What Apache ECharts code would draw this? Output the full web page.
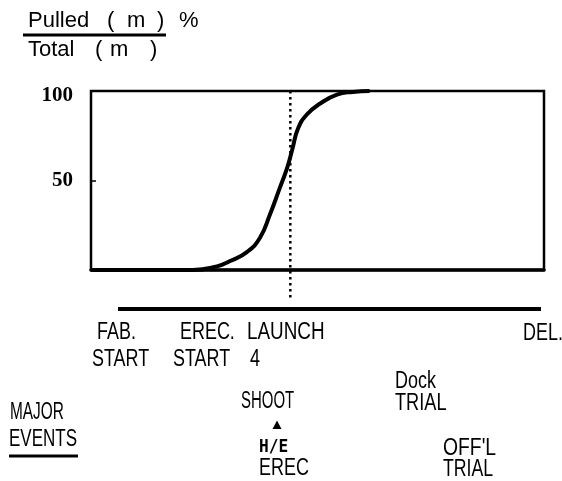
<!DOCTYPE html>
<html>
<head>
<meta charset="utf-8">
<script src="https://cdn.jsdelivr.net/npm/echarts@6/dist/echarts.min.js"></script>
<style>
  html, body { margin: 0; padding: 0; background: #fff; }
  #chart { width: 562px; height: 481px; }
</style>
</head>
<body>
<div id="chart"></div>
<script>
// Cumulative pipe pulled (% of total) against position along the build schedule
// (0 = left edge of the plot, 100 = right edge).
const schedulePos = [0, 22.5, 27.8, 30.7, 34.4, 37.3, 39.5, 41.7, 43.3, 44.4, 45.7, 47.7, 50.6, 54.3, 57.8, 61.5];
const pulledPct   = [0, 0,    2,    5,    10,   18,   31,   46,   57,   67,   79,   87,   93,   98,   99.5, 100];

// Value-axis ticks that carry a label
const yTickLabels = [50, 100];

// Launch milestone on the schedule axis (dotted marker)
const launchPos = 44;

// Milestone captions under the schedule bar (upper and lower line)
const milestoneTop = ['FAB.', 'EREC.', 'LAUNCH', 'DEL.'];
const milestoneBottom = ['START', 'START', '4'];
// Major events block
const eventsHeading = ['MAJOR', 'EVENTS'];
const eventShoot = ['SHOOT', 'H/E', 'EREC'];
const eventDock = ['Dock', 'TRIAL'];
const eventOfficial = ["OFF'L", 'TRIAL'];
// Axis title, drawn as a fraction
const titleNumerator = ['Pulled', '(', 'm', ')', '%'];
const titleDenominator = ['Total', '(', 'm', ')'];

const SANS = "'Liberation Sans', Arial, sans-serif";
const chart = echarts.init(document.getElementById('chart'), null, { renderer: 'canvas' });

// Text element; sx squeezes the glyphs horizontally for the narrow lettering
function txt(x, y, s, size, sx, weight, family) {
  return {
    type: 'text', x: x, y: y, scaleX: sx || 1,
    style: {
      text: s, fill: '#000',
      font: (weight || 'normal') + ' ' + size + 'px ' + (family || SANS),
      textAlign: 'left', textVerticalAlign: 'middle'
    }
  };
}

const option = {
  backgroundColor: '#fff',
  animation: false,
  grid: {
    left: 91, right: 18, top: 91, bottom: 211,
    show: true, borderColor: '#000', borderWidth: 2.5, backgroundColor: 'transparent'
  },
  xAxis: {
    type: 'value', min: 0, max: 100,
    axisLine: { show: true, lineStyle: { color: '#000', width: 3.5 } },
    axisTick: { show: false },
    axisLabel: { show: false },
    splitLine: { show: false }
  },
  yAxis: {
    type: 'value', min: 0, max: 100, interval: 50,
    axisLine: { show: true, lineStyle: { color: '#000', width: 2 } },
    axisTick: { show: true, inside: true, length: 5, lineStyle: { color: '#000', width: 1.5 } },
    splitLine: { show: false },
    axisLabel: {
      margin: 18,
      formatter: function (v) {
        if (yTickLabels.indexOf(v) < 0) return '';
        return v === 100 ? '{top|' + v + '}' : '{mid|' + v + '}';
      },
      rich: {
        top: { fontFamily: "'Liberation Serif', serif", fontWeight: 'bold', fontSize: 21, color: '#000', padding: [10, 0, 0, 0] },
        mid: { fontFamily: "'Liberation Serif', serif", fontWeight: 'bold', fontSize: 21, color: '#000' }
      }
    }
  },
  series: [{
    type: 'line',
    data: schedulePos.map((x, i) => [x, pulledPct[i]]),
    smooth: 0.5,
    symbol: 'none',
    lineStyle: { color: '#000', width: 4 },
    z: 3
  }]
};
chart.setOption(option);

// Positions derived from the axes
const launchX = chart.convertToPixel({ xAxisIndex: 0 }, launchPos);
const plotTop = chart.convertToPixel({ yAxisIndex: 0 }, 100);

const graphics = [
  // Axis title
  txt(28, 21, titleNumerator[0], 22),
  txt(107, 21, titleNumerator[1], 22),
  txt(127, 21, titleNumerator[2], 22),
  txt(157, 21, titleNumerator[3], 22),
  txt(179, 21, titleNumerator[4], 22),
  { type: 'line', shape: { x1: 23, y1: 35, x2: 166, y2: 35 }, style: { stroke: '#000', lineWidth: 3 } },
  txt(28, 50, titleDenominator[0], 22),
  txt(95, 50, titleDenominator[1], 22),
  txt(110, 50, titleDenominator[2], 22),
  txt(150, 50, titleDenominator[3], 22),

  // Launch marker, carried down to the schedule bar
  { type: 'line', shape: { x1: launchX, y1: plotTop, x2: launchX, y2: 298 },
    style: { stroke: '#000', lineWidth: 2.5, lineDash: [2.5, 3.5] }, z: 10 },

  // Schedule bar
  { type: 'line', shape: { x1: 118, y1: 309, x2: 541, y2: 309 }, style: { stroke: '#000', lineWidth: 4 } },

  // Milestone captions
  txt(97, 333, milestoneTop[0], 23, 0.78),
  txt(180, 333, milestoneTop[1], 23, 0.78),
  txt(247, 333, milestoneTop[2], 23, 0.82),
  txt(523, 334, milestoneTop[3], 23, 0.78),
  txt(92, 360, milestoneBottom[0], 23, 0.78),
  txt(173, 360, milestoneBottom[1], 23, 0.78),
  txt(250, 360, milestoneBottom[2], 23, 0.78),

  // Major events
  txt(10, 413, eventsHeading[0], 23, 0.67),
  txt(9, 440, eventsHeading[1], 23, 0.74),
  { type: 'line', shape: { x1: 9, y1: 456, x2: 78, y2: 456 }, style: { stroke: '#000', lineWidth: 3 } },

  txt(241, 402, eventShoot[0], 23, 0.65),
  { type: 'polygon', shape: { points: [[277, 420.5], [272.5, 429], [281.5, 429]] }, style: { fill: '#000' } },
  txt(259, 448, eventShoot[1], 17, 0.95, 'bold', "'DejaVu Sans Mono', monospace"),
  txt(259, 469, eventShoot[2], 23, 0.78),

  txt(395, 382, eventDock[0], 23, 0.78),
  txt(395, 404, eventDock[1], 23, 0.79),

  txt(443, 449, eventOfficial[0], 23, 0.84),
  txt(443, 470, eventOfficial[1], 23, 0.77)
];

chart.setOption({ graphic: { elements: graphics } });
</script>
</body>
</html>
